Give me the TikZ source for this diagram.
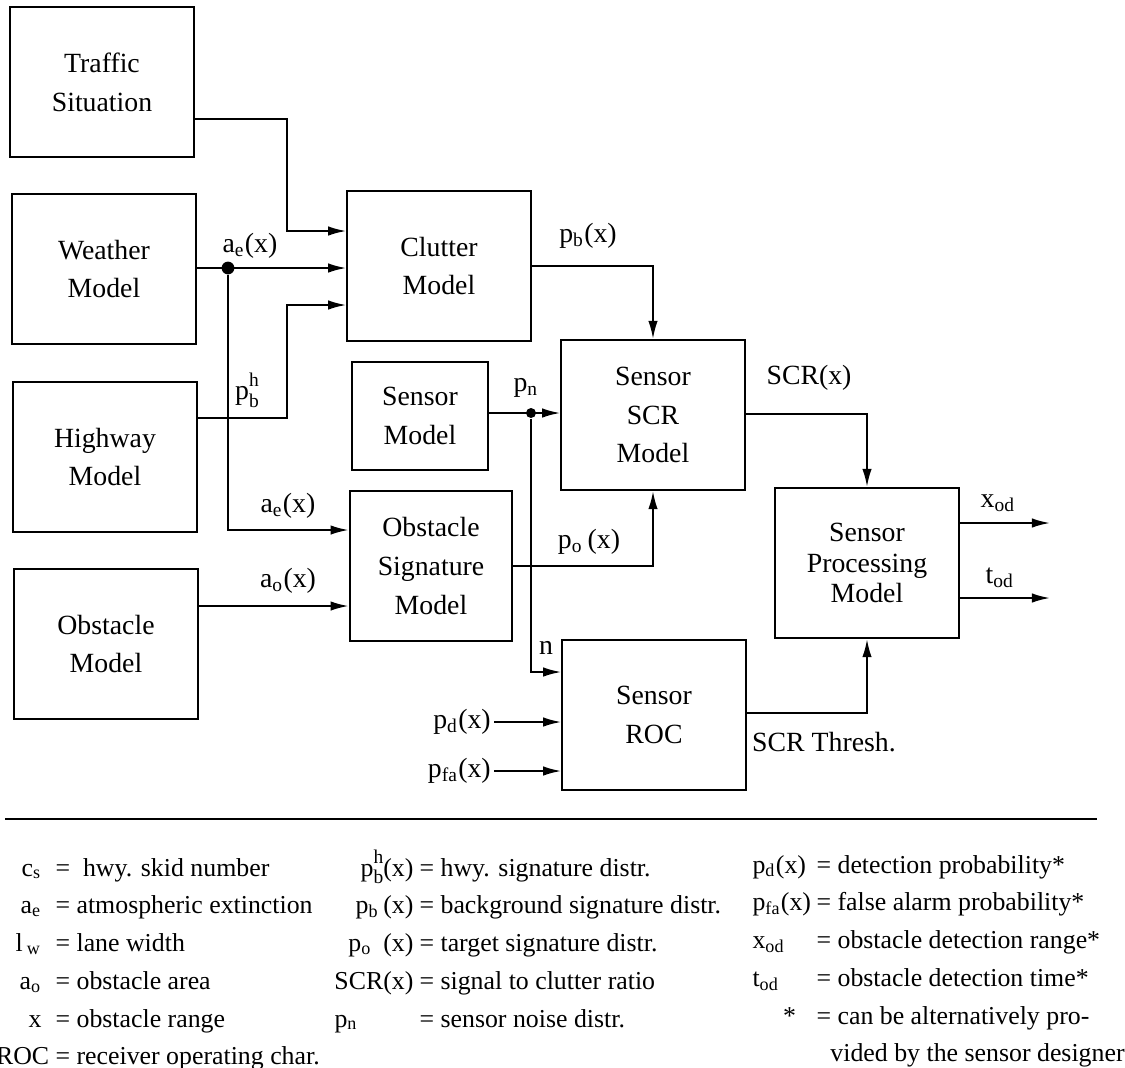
\documentclass[tikz,border=0pt]{standalone}
\usepackage{fontspec}
\setmainfont{Liberation Serif}
\usepackage{tikz}
\usetikzlibrary{arrows.meta, positioning}

\newcommand{\lowidx}[1]{\textsubscript{#1}}
\newcommand{\hbidx}{\rlap{\raisebox{1.05ex}{\scriptsize h}}\raisebox{-0.6ex}{\scriptsize b}}

\tikzset{
  block/.style={draw, line width=0.8pt, minimum width=66pt, minimum height=54pt, align=center, font=\fontsize{10}{14}\selectfont},
  flow/.style={line width=0.7pt, -{Latex[length=6.5pt, width=3.4pt]}},
  lbl/.style={font=\fontsize{10}{12}\selectfont, inner sep=1pt},
  dot/.style={circle, fill, inner sep=0pt, minimum size=4.6pt},
  legend/.style={font=\fontsize{9.3}{13.6}\selectfont, inner sep=0pt}
}

\begin{document}
\begin{tikzpicture}[x=0.36pt, y=-0.36pt]
  \useasboundingbox (0,0) rectangle (1125,1067);

  % Input models
  \node[block] (traffic) at (102,82) {Traffic\\Situation};
  \node[block] (weather) at (104,269) {Weather\\Model};
  \node[block] (highway) at (105,457) {Highway\\Model};
  \node[block] (obstacle) at (106,644) {Obstacle\\Model};

  % Middle column
  \node[block] (clutter) at (439,266) {Clutter\\Model};
  \node[block, minimum width=49pt, minimum height=39pt] (sensor) at (420,416) {Sensor\\Model};
  \node[block, minimum width=58.5pt] (obssig) at (431,566) {Obstacle\\Signature\\Model};

  % Sensor blocks
  \node[block] (scr) at (653,415) {Sensor\\SCR\\Model};
  \node[block] (roc) at (654,715) {Sensor\\ROC};
  \node[block, font=\fontsize{10}{11}\selectfont] (spm) at (867,563) {Sensor\\Processing\\Model};

  % Junctions
  \node[dot] (jae) at (228,268) {};
  \node[dot, minimum size=3.6pt] (jpn) at (531,413) {};

  % Inputs of the sensor ROC
  \node[lbl, anchor=east] (pd) at (494,722) {p\lowidx{d}(x)};
  \node[lbl, anchor=east] (pfa) at (494,771) {p\lowidx{fa}(x)};

  % Outputs
  \coordinate (xod) at (1050,523);
  \coordinate (tod) at (1050,598);

  % Connectors
  \draw[flow] (traffic.east |- 0,119) -| (287,231) -- (clutter.west |- 0,231);
  \draw[flow] (weather.east |- jae) -- (clutter.west |- jae);
  \draw[flow] (highway.east |- 0,418) -| (287,305) -- (clutter.west |- 0,305);
  \draw[flow] (jae) |- (obssig.west |- 0,530);
  \draw[flow] (obstacle.east |- 0,606) -- (obssig.west |- 0,606);
  \draw[flow] (clutter.east) -| (scr.north);
  \draw[flow] (sensor.east |- jpn) -- (scr.west |- jpn);
  \draw[flow] (jpn) |- (roc.west |- 0,672);
  \draw[flow] (obssig.east |- 0,566) -| (scr.south);
  \draw[flow] (scr.east |- 0,414) -| (spm.north);
  \draw[flow] (roc.east |- 0,713) -| (spm.south);
  \draw[flow] (pd) -- (roc.west |- pd);
  \draw[flow] (pfa) -- (roc.west |- pfa);
  \draw[flow] (spm.east |- xod) -- (xod);
  \draw[flow] (spm.east |- tod) -- (tod);

  % Connector labels
  \node[lbl] (lae1) at (250,246) {a\lowidx{e}(x)};
  \node[lbl] (lpbh) at (247,390) {p\hbidx};
  \node[lbl] (lae2) at (288,506) {a\lowidx{e}(x)};
  \node[lbl] (lao) at (288,581) {a\lowidx{o}(x)};
  \node[lbl] (lpb) at (588,236) {p\lowidx{b}(x)};
  \node[lbl] (lpn) at (526,388) {p\lowidx{n}};
  \node[lbl] (lpo) at (589,542) {p\lowidx{o}\,(x)};
  \node[lbl] (ln) at (546,648) {n};
  \node[lbl] (lscr) at (809,378) {SCR(x)};
  \node[lbl] (lthr) at (824,742) {SCR Thresh.};
  \node[lbl] (lxod) at (998,503) {x\lowidx{od}};
  \node[lbl] (ltod) at (1000,578) {t\lowidx{od}};

  % Separator
  \draw[line width=0.8pt] (5,819) -- (1097,819);

  % Legend
  \node[legend, anchor=north east] (leg1sym) at (42,849) {\begin{tabular}{@{}r@{}}
    c\lowidx{s}\\ a\lowidx{e}\\ l\,\lowidx{w}\\ a\lowidx{o}\\ x\\ ROC\hspace*{-2.8pt}
  \end{tabular}};
  \node[legend, anchor=north west] (leg1txt) at (55,849) {\begin{tabular}{@{}l@{}}
    = \ hwy. skid number\\ = atmospheric extinction\\ = lane width\\
    = obstacle area\\ = obstacle range\\ = receiver operating char.
  \end{tabular}};
  \node[legend, anchor=north east] (leg2sym) at (414,849) {\begin{tabular}{@{}r@{}}
    p\hbidx(x)\\ p\lowidx{b}\,(x)\\ p\lowidx{o}\;\,(x)\\ SCR(x)\\ p\lowidx{n}\hspace*{20pt}
  \end{tabular}};
  \node[legend, anchor=north west] (leg2txt) at (419,849) {\begin{tabular}{@{}l@{}}
    = hwy. signature distr.\\ = background signature distr.\\ = target signature distr.\\
    = signal to clutter ratio\\ = sensor noise distr.
  \end{tabular}};
  \node[legend, anchor=north west] (leg3sym) at (752,846) {\begin{tabular}{@{}l@{}}
    p\lowidx{d}(x)\\ p\lowidx{fa}(x)\\ x\lowidx{od}\\ t\lowidx{od}\\ \hspace*{11pt}*
  \end{tabular}};
  \node[legend, anchor=north west] (leg3txt) at (816,846) {\begin{tabular}{@{}l@{}}
    = detection probability*\\ = false alarm probability*\\ = obstacle detection range*\\
    = obstacle detection time*\\ = can be alternatively pro-\\ \hspace*{5pt}vided by the sensor designer
  \end{tabular}};
\end{tikzpicture}
\end{document}
